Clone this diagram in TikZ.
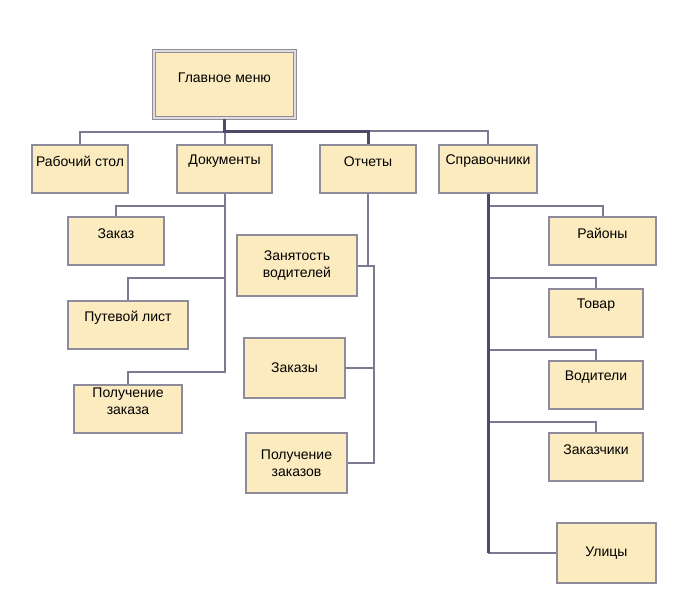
\documentclass[tikz,border=0pt]{standalone}
\usepackage{fontspec}
\setmainfont{Liberation Sans}
\usepackage{tikz}
\usetikzlibrary{positioning}

\definecolor{boxfill}{HTML}{FCEBBF}
\definecolor{boxline}{HTML}{8C8C9C}
\definecolor{linkcol}{HTML}{7A7A90}
\definecolor{boldcol}{HTML}{4C4A66}

\tikzset{
  box/.style={draw=boxline, fill=boxfill, line width=1.5pt, inner sep=0pt, align=center},
  toptext/.style={label={[anchor=center, yshift=-17pt, align=center, inner sep=0pt]north:#1}},
  link/.style={draw=linkcol, line width=2pt},
  bold/.style={draw=boldcol, line width=3pt}
}

\begin{document}
\begin{tikzpicture}[x=1pt, y=-1pt, font=\fontsize{14}{17.5}\selectfont]
   \useasboundingbox (0,0) rectangle (677,603);

   % menu
   \node[box, draw=boxline!90!brown, double=boxline!30, double distance=1.3pt, line width=1.5pt,
         minimum width=141, minimum height=67,
         label={[anchor=center, yshift=-27pt]north:Главное меню}] (menu) at (224.5,84.5) {};

   % first row
   \node[box, minimum width=96, minimum height=48, toptext=Рабочий стол] (rab) at (80,169) {};
   \node[box, minimum width=95, minimum height=48, toptext=Документы] (doc) at (224.5,169) {};
   \node[box, minimum width=96, minimum height=48, toptext=Отчеты] (otch) at (368,169) {};
   \node[box, minimum width=98, minimum height=48, toptext=Справочники] (spr) at (488,169) {};

   % documents
   \node[box, minimum width=96, minimum height=48, toptext=Заказ] (zakaz) at (116,241) {};
   \node[box, minimum width=120, minimum height=48, toptext=Путевой лист] (putl) at (128,325) {};
   \node[box, minimum width=108, minimum height=48, toptext={Получение\\заказа}] (polz) at (128,409) {};

   % reports
   \node[box, minimum width=120, minimum height=61] (zan) at (297,265.5) {Занятость\\водителей};
   \node[box, minimum width=101, minimum height=60] (zkz) at (294.5,368) {Заказы};
   \node[box, minimum width=101, minimum height=60] (polzs) at (296.5,463) {Получение\\заказов};

   % catalogs
   \node[box, minimum width=107, minimum height=48, toptext=Районы] (ray) at (602.5,241) {};
   \node[box, minimum width=94, minimum height=48, toptext=Товар] (tov) at (596,313) {};
   \node[box, minimum width=94, minimum height=48, toptext=Водители] (vod) at (596,385) {};
   \node[box, minimum width=94, minimum height=48, toptext=Заказчики] (zch) at (596,457) {};
   \node[box, minimum width=99, minimum height=60] (ul) at (606.5,553) {Улицы};

   % main bus
   \draw[link] (menu.south) ++(0,13) -| (rab.north);
   \draw[link] (menu.south) ++(0,13) -- (doc.north);
   \draw[link] (otch.north) -- ++(0,-13) -| (spr.north);
   \draw[bold] (menu.south) -- ++(0,13) -| (otch.north);

   % documents
   \draw[link] (doc.south) |- ([yshift=12pt]polz.north) -- (polz.north);
   \draw[link] (doc.south) ++(0,12) -| (zakaz.north);
   \draw[link] (doc.south) ++(0,84) -| (putl.north);

   % reports
   \draw[link] (otch.south) |- (zan.east);
   \draw[link] (zan.east) -- ++(16,0) |- (polzs.east);
   \draw[link] (zkz.east) -- ++(28.5,0);

   % catalogs
   \draw[link] (spr.south) ++(0,12) -| (ray.north);
   \draw[link] (spr.south) ++(0,84) -| (tov.north);
   \draw[link] (spr.south) ++(0,156) -| (vod.north);
   \draw[link] (spr.south) ++(0,228) -| (zch.north);
   \draw[link] (spr.south |- ul.west) -- (ul.west);
   \draw[bold] (spr.south) -- (spr.south |- ul.west);
\end{tikzpicture}
\end{document}
